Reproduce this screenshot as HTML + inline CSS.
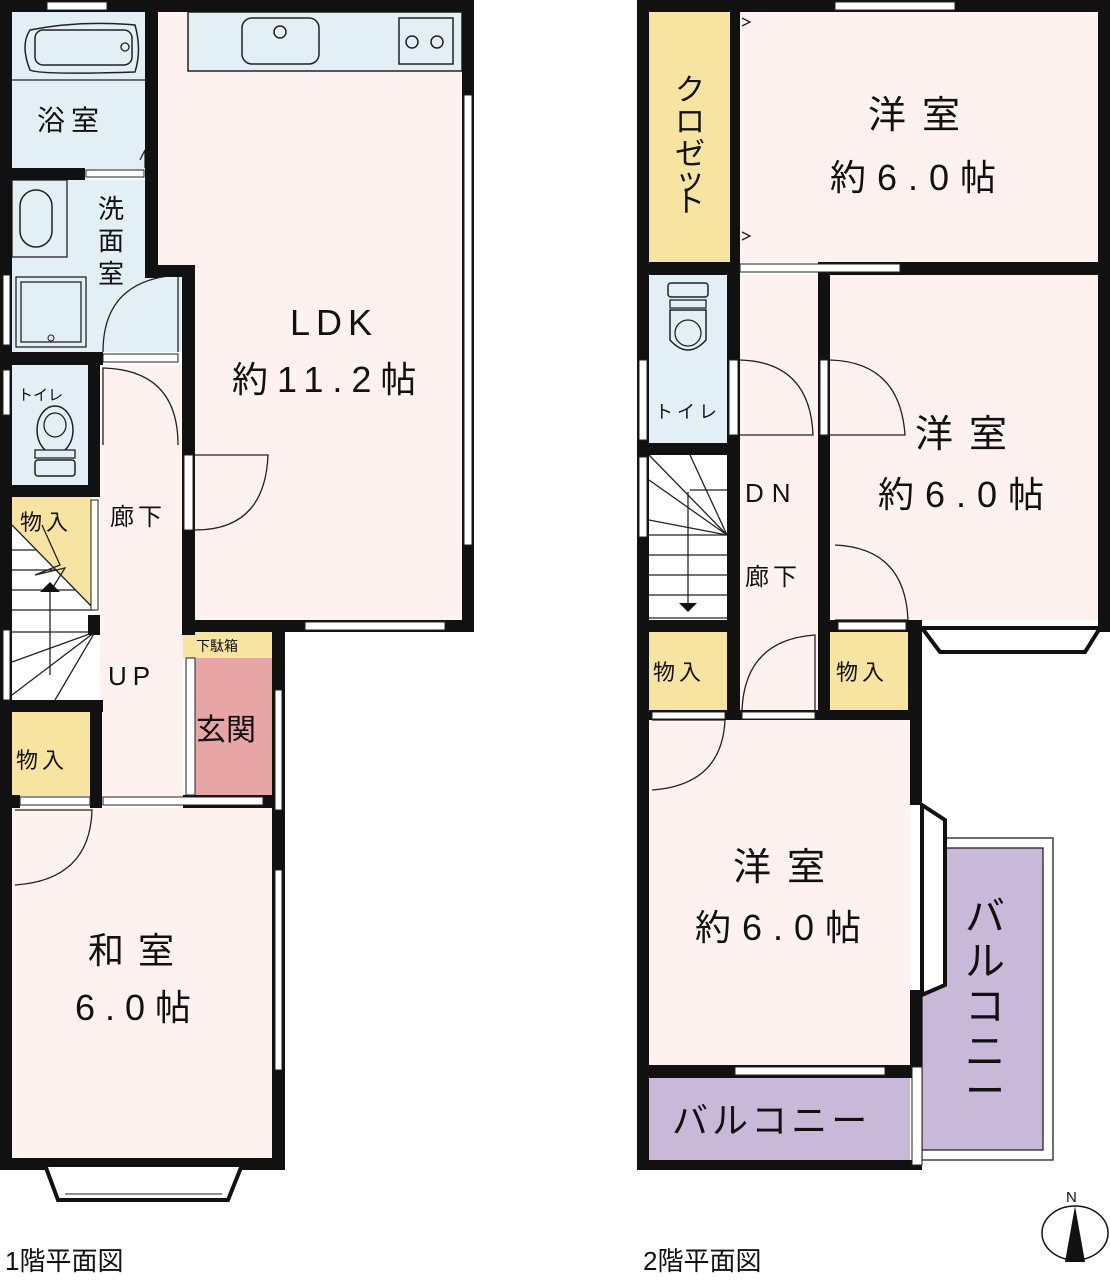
<!DOCTYPE html>
<html><head><meta charset="utf-8"><style>
html,body{margin:0;padding:0;background:#fff}
svg{display:block}
text{font-family:"Liberation Sans","Noto Sans CJK JP",sans-serif;fill:#111}
</style></head><body>
<svg width="1110" height="1280" viewBox="0 0 1110 1280" xmlns="http://www.w3.org/2000/svg">
<!-- ===== 1F fills ===== -->
<rect x="12" y="12" width="135" height="158" fill="#e2eff4"/>
<rect x="12" y="180" width="170" height="172" fill="#e2eff4"/>
<rect x="12" y="365" width="78" height="122" fill="#e2eff4"/>
<rect x="158" y="12" width="304" height="253" fill="#fdf2f0"/>
<rect x="195" y="265" width="267" height="355" fill="#fdf2f0"/>
<rect x="188" y="12" width="274" height="59" fill="#e2eff4" stroke="#222" stroke-width="1.5"/>
<rect x="100" y="365" width="83" height="432" fill="#fdf2f0"/>
<rect x="12" y="497" width="80" height="125" fill="#f6e4a0"/>
<rect x="12" y="712" width="80" height="84" fill="#f6e4a0"/>
<rect x="183" y="632" width="89" height="26" fill="#f6e4a0"/>
<rect x="195" y="658" width="77" height="137" fill="#e8a5a5"/>
<rect x="12" y="808" width="260" height="350" fill="#fdf2f0"/>
<!-- stairs 1F -->
<polygon points="12,525 95,610 95,700 12,700" fill="#fff"/>
<g stroke="#222" stroke-width="1.3" fill="none">
<line x1="12" y1="525" x2="95" y2="610"/>
<line x1="12" y1="550" x2="37" y2="550"/><line x1="12" y1="570" x2="57" y2="570"/>
<line x1="12" y1="590" x2="76" y2="590"/><line x1="12" y1="610" x2="95" y2="610"/>
<line x1="95" y1="632" x2="12" y2="662"/><line x1="95" y1="632" x2="12" y2="695"/>
<line x1="95" y1="632" x2="55" y2="700"/><line x1="95" y1="632" x2="12" y2="632"/>
<line x1="50" y1="592" x2="50" y2="675"/>
<polyline points="42,525 60,565 35,575 65,568 50,592"/>
</g>
<polygon points="40,592 50,582 60,592" fill="#111"/>
<!-- bathtub -->
<path d="M30 30 Q20 45 30 70 Q40 75 135 72 Q142 50 135 25 Q80 20 30 30Z" fill="none" stroke="#222" stroke-width="1.5"/>
<rect x="35" y="30" width="97" height="35" rx="8" fill="none" stroke="#222" stroke-width="1.5"/>
<circle cx="125" cy="47" r="4" fill="none" stroke="#222" stroke-width="1.3"/>
<line x1="12" y1="80" x2="145" y2="80" stroke="#222" stroke-width="1.3"/>
<!-- washbasin -->
<rect x="12" y="180" width="55" height="77" fill="none" stroke="#222" stroke-width="1.3"/>
<rect x="20" y="190" width="32" height="57" rx="16" fill="none" stroke="#222" stroke-width="1.5"/>
<rect x="16" y="277" width="70" height="70" fill="none" stroke="#222" stroke-width="1.3"/>
<rect x="21" y="282" width="60" height="60" fill="none" stroke="#222" stroke-width="1.3"/>
<circle cx="51" cy="338" r="3" fill="none" stroke="#222"/>
<!-- kitchen sink/stove -->
<rect x="242" y="18" width="77" height="46" rx="10" fill="none" stroke="#222" stroke-width="1.5"/>
<circle cx="280" cy="32" r="6" fill="none" stroke="#222" stroke-width="1.5"/>
<rect x="399" y="18" width="54" height="46" fill="none" stroke="#222" stroke-width="1.5"/>
<circle cx="412" cy="42" r="6" fill="none" stroke="#222" stroke-width="1.5"/>
<circle cx="437" cy="42" r="6" fill="none" stroke="#222" stroke-width="1.5"/>
<!-- toilet 1F -->
<ellipse cx="55" cy="430" rx="18" ry="24" fill="none" stroke="#222" stroke-width="1.5"/>
<ellipse cx="55" cy="425" rx="11" ry="12" fill="none" stroke="#222" stroke-width="1.3"/>
<rect x="35" y="450" width="40" height="8" fill="#e2eff4" stroke="#222" stroke-width="1.3"/>
<rect x="35" y="460" width="40" height="16" rx="3" fill="#e2eff4" stroke="#222" stroke-width="1.5"/>
<!-- doors 1F -->
<g stroke="#222" stroke-width="1.3" fill="none">
<path d="M103 352 Q103 280 178 275 L178 352"/>
<path d="M103 445 L103 368 Q178 370 178 445"/>
<path d="M195 530 Q265 530 268 455 L195 455"/>
<path d="M15 885 Q90 880 92 810 L15 810"/>
<path d="M140 160 L145 150 L145 168"/>
</g>
<!-- ===== 1F walls ===== -->
<g fill="#111">
<rect x="0" y="0" width="474" height="12"/>
<rect x="0" y="0" width="12" height="1170"/>
<rect x="145" y="0" width="13" height="278"/>
<rect x="145" y="265" width="50" height="12"/>
<rect x="182" y="265" width="13" height="370"/>
<rect x="462" y="0" width="12" height="632"/>
<rect x="182" y="620" width="292" height="12"/>
<rect x="0" y="168" width="85" height="12"/>
<rect x="0" y="352" width="103" height="13"/>
<rect x="88" y="352" width="12" height="140"/>
<rect x="0" y="485" width="100" height="12"/>
<rect x="88" y="615" width="12" height="20"/>
<rect x="0" y="700" width="103" height="12"/>
<rect x="90" y="700" width="12" height="108"/>
<rect x="272" y="620" width="13" height="550"/>
<rect x="183" y="795" width="102" height="13"/>
<rect x="0" y="795" width="20" height="13"/>
<rect x="0" y="1158" width="285" height="12"/>
</g>
<!-- white openings / windows 1F -->
<g fill="#fff" stroke="#222" stroke-width="1">
<rect x="47" y="2" width="60" height="8"/>
<rect x="86" y="170" width="58" height="7"/>
<rect x="103" y="354" width="75" height="8"/>
<rect x="3" y="275" width="7" height="70"/>
<rect x="3" y="370" width="7" height="45"/>
<rect x="91" y="500" width="7" height="110"/>
<rect x="3" y="630" width="7" height="70"/>
<rect x="184" y="455" width="9" height="75"/>
<rect x="186" y="658" width="9" height="137"/>
<rect x="464" y="95" width="8" height="450"/>
<rect x="305" y="622" width="140" height="8"/>
<rect x="275" y="690" width="7" height="120"/>
<rect x="275" y="870" width="7" height="200"/>
<rect x="20" y="797" width="70" height="8"/>
<rect x="103" y="797" width="160" height="8"/>
</g>
<polygon points="45,1165 58,1200 228,1200 242,1165" fill="#fff" stroke="#111" stroke-width="4"/>
<line x1="65" y1="1194" x2="222" y2="1194" stroke="#222"/>
<!-- ===== 2F fills ===== -->
<rect x="649" y="12" width="81" height="250" fill="#f6e4a0"/>
<rect x="740" y="12" width="358" height="250" fill="#fdf2f0"/>
<rect x="649" y="275" width="78" height="170" fill="#e2eff4"/>
<rect x="740" y="275" width="78" height="440" fill="#fdf2f0"/>
<rect x="830" y="275" width="268" height="345" fill="#fdf2f0"/>
<rect x="649" y="455" width="78" height="165" fill="#fff"/>
<rect x="649" y="632" width="78" height="78" fill="#f6e4a0"/>
<rect x="830" y="632" width="78" height="78" fill="#f6e4a0"/>
<rect x="649" y="718" width="261" height="347" fill="#fdf2f0"/>
<rect x="649" y="1078" width="261" height="82" fill="#c8b9d8"/>
<rect x="922" y="838" width="131" height="322" fill="#fff" stroke="#222" stroke-width="1.3"/>
<rect x="922" y="848" width="121" height="302" fill="#c8b9d8" stroke="#222" stroke-width="1.3"/>
<polygon points="912,805 945,822 945,985 912,995" fill="#fff"/>
<!-- stairs 2F -->
<g stroke="#222" stroke-width="1.3" fill="none">
<line x1="649" y1="480" x2="727" y2="535"/><line x1="649" y1="520" x2="727" y2="535"/>
<line x1="690" y1="455" x2="727" y2="535"/><line x1="649" y1="455" x2="727" y2="535"/>
<line x1="690" y1="490" x2="727" y2="490"/>
<line x1="649" y1="535" x2="727" y2="535"/><line x1="649" y1="555" x2="727" y2="555"/>
<line x1="649" y1="575" x2="727" y2="575"/><line x1="649" y1="595" x2="727" y2="595"/>
<line x1="649" y1="618" x2="727" y2="618"/>
<line x1="688" y1="492" x2="688" y2="605"/>
</g>
<polygon points="679,603 697,603 688,612" fill="#111"/>
<!-- toilet 2F -->
<rect x="668" y="283" width="40" height="14" rx="3" fill="none" stroke="#222" stroke-width="1.5"/>
<rect x="670" y="300" width="36" height="8" fill="none" stroke="#222" stroke-width="1.3"/>
<path d="M670 310 L670 340 Q688 360 706 340 L706 310Z" fill="none" stroke="#222" stroke-width="1.5"/>
<circle cx="688" cy="333" r="13" fill="none" stroke="#222" stroke-width="1.3"/>
<!-- doors 2F -->
<g stroke="#222" stroke-width="1.3" fill="none">
<path d="M740 360 Q810 362 813 435 L740 435"/>
<path d="M830 360 Q900 362 905 435 L830 435"/>
<path d="M835 545 Q905 548 908 620 L835 620"/>
<path d="M742 710 Q745 640 815 635 L815 710"/>
<path d="M652 790 Q722 785 725 720 L652 720"/>
<polyline points="742,18 750,22 742,26"/><polyline points="742,232 750,236 742,240"/>
</g>
<!-- ===== 2F walls ===== -->
<g fill="#111">
<rect x="637" y="0" width="473" height="12"/>
<rect x="637" y="0" width="12" height="1170"/>
<rect x="1098" y="0" width="12" height="632"/>
<rect x="730" y="0" width="10" height="275"/>
<rect x="637" y="262" width="103" height="13"/>
<rect x="818" y="262" width="292" height="13"/>
<rect x="727" y="262" width="13" height="455"/>
<rect x="818" y="262" width="12" height="455"/>
<rect x="637" y="443" width="103" height="12"/>
<rect x="637" y="620" width="103" height="12"/>
<rect x="818" y="620" width="100" height="12"/>
<rect x="908" y="620" width="14" height="100"/>
<rect x="637" y="710" width="285" height="10"/>
<rect x="910" y="710" width="12" height="95"/>
<rect x="910" y="990" width="12" height="85"/>
<rect x="637" y="1065" width="285" height="13"/>
<rect x="637" y="1160" width="285" height="10"/>
</g>
<g fill="#fff" stroke="#222" stroke-width="1">
<rect x="740" y="264" width="160" height="8"/>
<rect x="835" y="2" width="120" height="8"/>
<rect x="639" y="360" width="8" height="80"/>
<rect x="639" y="457" width="8" height="80"/>
<rect x="729" y="360" width="9" height="75"/>
<rect x="820" y="360" width="8" height="75"/>
<rect x="742" y="712" width="73" height="7"/>
<rect x="652" y="712" width="73" height="7"/>
<rect x="838" y="622" width="68" height="8"/>
<rect x="735" y="1067" width="150" height="8"/>
<rect x="912" y="1067" width="10" height="98"/>
</g>
<polygon points="922,628 940,652 1085,652 1100,628" fill="#fff" stroke="#111" stroke-width="4"/>
<polygon points="922,805 945,820 945,985 922,995" fill="none" stroke="#111" stroke-width="4"/>
<!-- compass -->
<ellipse cx="1075" cy="1233" rx="33" ry="27" fill="#fff" stroke="#111" stroke-width="1.5"/>
<polygon points="1075,1206 1065,1262 1085,1262" fill="#111"/>
<text x="1066" y="1202" font-size="15">N</text>
<!-- ===== labels ===== -->
<g font-size="28">
<text x="37" y="130" letter-spacing="6">浴室</text>
<text x="20" y="530" font-size="22" letter-spacing="4">物入</text>
<text x="16" y="768" font-size="22" letter-spacing="4">物入</text>
<text x="110" y="525" font-size="24" letter-spacing="4">廊下</text>
<text x="108" y="685" font-size="26" letter-spacing="6">UP</text>
<text x="196" y="740" font-size="30">玄関</text>
<text x="196" y="651" font-size="14">下駄箱</text>
<text x="18" y="400" font-size="15">トイレ</text>
</g>
<g font-size="26"><text x="98" y="218">洗</text><text x="98" y="250">面</text><text x="98" y="283">室</text></g>
<text x="290" y="335" font-size="36" letter-spacing="6">LDK</text>
<text x="232" y="392" font-size="36" letter-spacing="9">約11.2帖</text>
<text x="88" y="963" font-size="36" letter-spacing="14">和室</text>
<text x="75" y="1020" font-size="36" letter-spacing="10">6.0帖</text>
<text x="868" y="128" font-size="38" letter-spacing="16">洋室</text>
<text x="830" y="190" font-size="36" letter-spacing="11">約6.0帖</text>
<text x="915" y="447" font-size="38" letter-spacing="16">洋室</text>
<text x="878" y="507" font-size="36" letter-spacing="11">約6.0帖</text>
<text x="733" y="880" font-size="38" letter-spacing="16">洋室</text>
<text x="695" y="940" font-size="36" letter-spacing="11">約6.0帖</text>
<text x="745" y="502" font-size="26" letter-spacing="8">DN</text>
<text x="745" y="585" font-size="24" letter-spacing="4">廊下</text>
<text x="655" y="418" font-size="18" letter-spacing="4">トイレ</text>
<text x="653" y="680" font-size="22" letter-spacing="4">物入</text>
<text x="836" y="680" font-size="22" letter-spacing="4">物入</text>
<text x="672" y="1133" font-size="36" letter-spacing="4">バルコニー</text>
<g font-size="30"><text x="675" y="100">ク</text><text x="675" y="132">ロ</text><text x="675" y="164">ゼ</text><text x="675" y="190">ッ</text><text x="675" y="212">ト</text></g>
<g font-size="40"><text x="965" y="930">バ</text><text x="965" y="975">ル</text><text x="965" y="1020">コ</text><text x="965" y="1065">ニ</text><text x="965" y="1105">ー</text></g>
<text x="5" y="1270" font-size="26">1階平面図</text>
<text x="643" y="1270" font-size="26">2階平面図</text>
</svg>
</body></html>
